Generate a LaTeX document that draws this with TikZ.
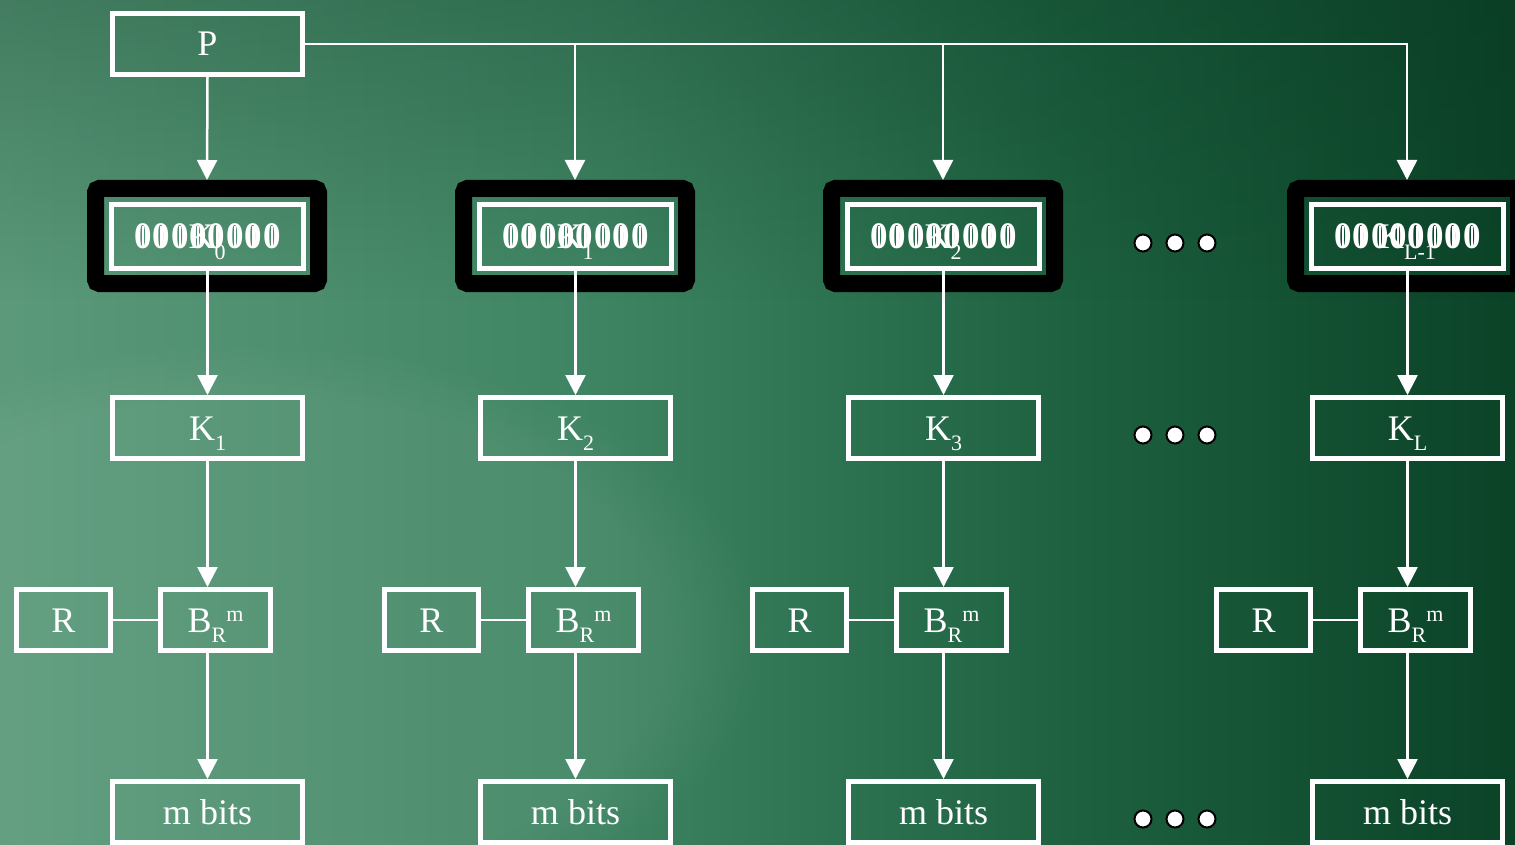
\documentclass[tikz,border=0pt]{standalone}
\usepackage{fontspec}
\setmainfont{Liberation Serif}
\usetikzlibrary{arrows.meta,fadings}
\definecolor{bgA}{HTML}{5C9A7B}
\definecolor{bgB}{HTML}{3E8462}
\definecolor{bgC}{HTML}{1D6140}
\definecolor{bgD}{HTML}{0A4126}
\definecolor{topdark}{HTML}{083520}
\pgfdeclarehorizontalshading{bgshade}{100bp}{color(0bp)=(bgA); color(25bp)=(bgA); color(45bp)=(bgB); color(60bp)=(bgC); color(75bp)=(bgD); color(100bp)=(bgD)}
\newcommand\mysub[1]{\raisebox{-0.3em}{\fontsize{22}{22}\selectfont #1}}
\newcommand\mysup[1]{\raisebox{0.3em}{\fontsize{22}{22}\selectfont #1}}
\newcommand\zb{\makebox[18.4pt][c]{\bfseries\scalebox{0.97}[1.04]{0}}\kern-18.4pt\makebox[18.4pt][c]{\rule[1.5pt]{2.3pt}{21.5pt}}}
\newcommand\zeros{\zb\zb\zb\zb\zb\zb\zb\zb}
\tikzset{
  wbox/.style={draw=white, line width=5pt, minimum width=190pt, minimum height=61pt,
    inner sep=0pt, text=white, font=\fontsize{36}{40}\selectfont, text height=24pt, text depth=0pt},
  ibox/.style={wbox, minimum width=192pt, minimum height=64pt},
  bbox/.style={draw=black, line width=17pt, rounded corners=4pt, minimum width=223pt,
    minimum height=95pt, inner sep=0pt},
  ovl/.style={inner sep=0pt, text=white, font=\fontsize{36}{40}\selectfont, text height=24pt, text depth=0pt},
  conn/.style={draw=white, line width=2.5pt},
  arr/.style={conn, -{Triangle[width=20pt,length=20pt]}},
  dotn/.style={circle, fill=white, draw=black, line width=2pt, minimum size=17pt, inner sep=0pt},
}
\begin{document}
\begin{tikzpicture}[x=1pt,y=-1pt]
\useasboundingbox (0,0) rectangle (1515,845);
\clip (0,0) rectangle (1515,845);
% background
\fill[shading=bgshade] (-20,-20) rectangle (1535,865);
\fill[topdark, opacity=0.30, path fading=south] (-20,-20) rectangle (1535,300);
\fill[white, opacity=0.06, path fading=circle with fuzzy edge 20 percent] (250,640) ellipse (520 and 300);
% top box
\node[wbox, minimum width=190pt] (P) at (207.5,44) {P};
% columns
\foreach \i/\x/\ksub/\klab in {1/207/0/1, 2/575/1/2, 3/943/2/3, 4/1407/L-1/L} {
  \node[bbox] (blk\i) at (\x,236) {};
  \node[ibox] (in\i) at (\x+0.5,236.5) {\zeros};
  \node[ovl] (kov\i) at (\x,236.5) {K\mysub{\ksub}};
  \node[wbox] (K\i) at (\x+0.5,428) {K\mysub{\klab}};
  \node[wbox, minimum width=110pt] (B\i) at (\x+8.5,620) {B\mysub{R}\mysup{m}};
  \node[wbox, minimum width=94pt] (R\i) at (\x-143.5,620) {R};
  \node[wbox] (M\i) at (\x+0.5,812) {m bits};
  \draw[arr] (in\i.south -| K\i.north) -- (K\i.north);
  \draw[arr] (K\i.south) -- (K\i.south |- B\i.north);
  \draw[conn] (R\i) -- (B\i);
  \draw[arr] (K\i.south |- B\i.south) -- (M\i.north);
}
% connectors from P
\draw[arr] (P.south) -- (blk1.north);
\draw[arr] (P.east) -| (blk4.north);
\draw[arr] (P.east -| blk2.north) -- (blk2.north);
\draw[arr] (P.east -| blk3.north) -- (blk3.north);
% ellipsis dots
\foreach \r/\y in {1/243, 2/435, 3/819} {
  \node[dotn] (d\r a) at (1143,\y) {};
  \node[dotn] (d\r b) at (1175,\y) {};
  \node[dotn] (d\r c) at (1207,\y) {};
}
\end{tikzpicture}
\end{document}
